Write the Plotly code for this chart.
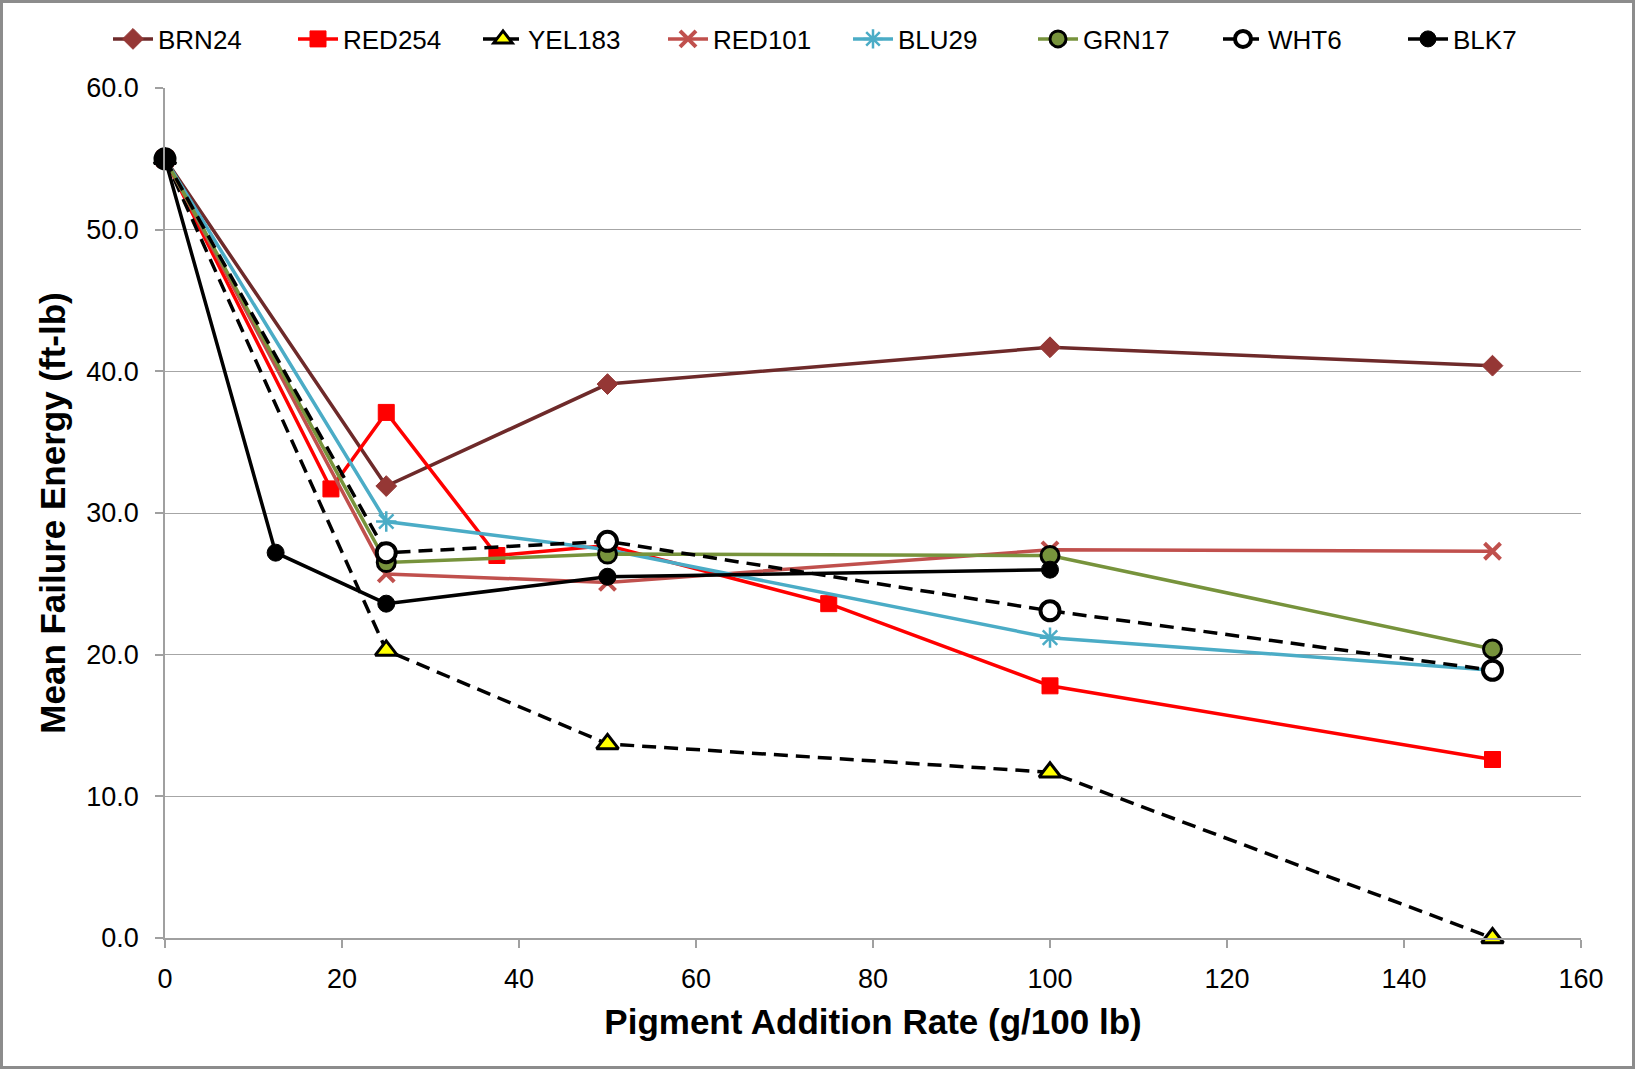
import plotly.graph_objects as go

# ---------------- data ----------------
brn24_x = [0, 25, 50, 100, 150]
brn24_y = [55.0, 31.9, 39.1, 41.7, 40.4]

red254_x = [0, 18.75, 25, 37.5, 50, 75, 100, 150]
red254_y = [55.0, 31.7, 37.1, 27.0, 27.7, 23.6, 17.8, 12.6]

yel183_x = [0, 25, 50, 100, 150]
yel183_y = [55.0, 20.3, 13.7, 11.7, 0.0]

red101_x = [0, 25, 50, 100, 150]
red101_y = [55.0, 25.7, 25.1, 27.4, 27.3]

blu29_x = [0, 25, 50, 100, 150]
blu29_y = [55.0, 29.4, 27.4, 21.2, 18.9]

grn17_x = [0, 25, 50, 100, 150]
grn17_y = [55.0, 26.5, 27.1, 27.0, 20.4]

wht6_x = [0, 25, 50, 100, 150]
wht6_y = [55.0, 27.2, 28.0, 23.1, 18.9]

blk7_x = [0, 12.5, 25, 50, 100]
blk7_y = [55.0, 27.2, 23.6, 25.5, 26.0]

x_title = "Pigment Addition Rate (g/100 lb)"
y_title = "Mean Failure Energy (ft-lb)"

# ---------------- figure ----------------
W, H = 1635, 1069
ML, MR, MT, MB = 165, 54, 88, 131
PW, PH = W - ML - MR, H - MT - MB

fig = go.Figure()

def add(name, xs, ys, line, marker):
    fig.add_trace(go.Scatter(x=xs, y=ys, name=name, mode="lines+markers",
                             line=line, marker=marker, cliponaxis=False))

DASH = "14px,8px"
LW = 3.5

add("BRN24", brn24_x, brn24_y,
    dict(color="#6E2A2A", width=LW),
    dict(symbol="diamond", size=16, color="#953735", line=dict(color="#953735", width=1)))
add("RED254", red254_x, red254_y,
    dict(color="#FF0000", width=LW),
    dict(symbol="square", size=16, color="#FF0000", line=dict(color="#FF0000", width=1)))
add("YEL183", yel183_x, yel183_y,
    dict(color="#000000", width=LW, dash=DASH),
    dict(symbol="triangle-up", size=19, color="#FFFF00", line=dict(color="#000000", width=3)))
add("RED101", red101_x, red101_y,
    dict(color="#C0504D", width=LW),
    dict(symbol="x-thin-open", size=16, color="#C0504D", line=dict(color="#C0504D", width=4)))
add("BLU29", blu29_x, blu29_y,
    dict(color="#4BACC6", width=LW),
    dict(symbol="asterisk-open", size=17, color="#4BACC6", line=dict(color="#4BACC6", width=2.5)))
add("GRN17", grn17_x, grn17_y,
    dict(color="#77933C", width=LW),
    dict(symbol="circle", size=18, color="#77933C", line=dict(color="#000000", width=3)))
add("WHT6", wht6_x, wht6_y,
    dict(color="#000000", width=LW, dash=DASH),
    dict(symbol="circle", size=19, color="#FFFFFF", line=dict(color="#000000", width=4)))
add("BLK7", blk7_x, blk7_y,
    dict(color="#000000", width=LW),
    dict(symbol="circle", size=17, color="#000000", line=dict(color="#000000", width=1)))

fig.update_layout(
    width=W, height=H,
    margin=dict(l=ML, r=MR, t=MT, b=MB, pad=0),
    paper_bgcolor="white", plot_bgcolor="white",
    font=dict(family="Liberation Sans, Arial, sans-serif", color="#000000", size=25),
    showlegend=True,
    legend=dict(orientation="h", x=(108 - ML) / PW, xanchor="left",
                y=1 + (MT - 39) / PH, yanchor="middle",
                font=dict(size=26, color="#000000"),
                entrywidth=130, entrywidthmode="pixels",
                itemwidth=40, tracegroupgap=0, bgcolor="rgba(0,0,0,0)"),
    xaxis=dict(range=[0, 160], dtick=20, tick0=0,
               showgrid=False, zeroline=False,
               showline=True, linecolor="#A0A0A0", linewidth=1.5,
               ticks="outside", ticklen=8, tickcolor="#A0A0A0", tickwidth=1.5,
               ticklabelstandoff=8,
               tickfont=dict(size=27, color="#000000"),
               title=dict(text="<b>" + x_title + "</b>", standoff=16,
                          font=dict(size=35, color="#000000"))),
    yaxis=dict(range=[0, 60], dtick=10, tick0=0, tickformat=".1f",
               showgrid=True, gridcolor="#A6A6A6", gridwidth=1,
               zeroline=False,
               showline=True, linecolor="#A0A0A0", linewidth=1.5,
               ticks="outside", ticklen=8, tickcolor="#A0A0A0", tickwidth=1.5,
               ticklabelstandoff=11,
               tickfont=dict(size=27, color="#000000"),
               title=dict(text="<b>" + y_title + "</b>", standoff=10,
                          font=dict(size=35, color="#000000"))),
)

# outer chart-area border
fig.add_shape(type="rect", xref="paper", yref="paper",
              x0=-(ML - 1.5) / PW, x1=1 + (MR - 1.5) / PW,
              y0=-(MB - 1.5) / PH, y1=1 + (MT - 1.5) / PH,
              line=dict(color="#8C8C8C", width=3), fillcolor="rgba(0,0,0,0)",
              layer="below")

fig.write_html("out.html", config={"displayModeBar": False},
               post_script="document.body.style.margin='0';document.body.style.overflow='hidden';")
